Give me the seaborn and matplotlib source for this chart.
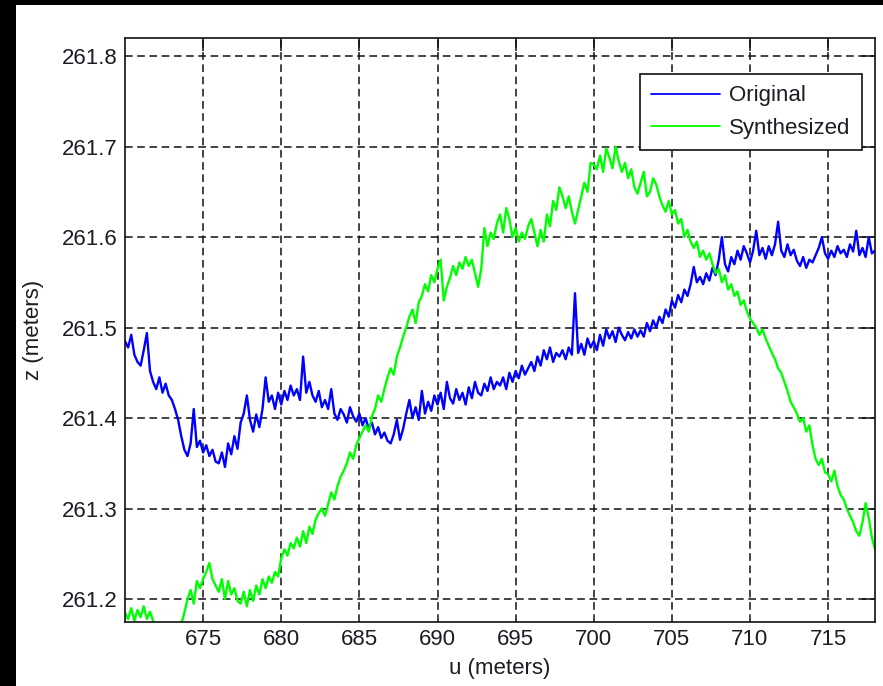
import numpy as np
import pandas as pd
import matplotlib
matplotlib.use("Agg")
import matplotlib.pyplot as plt
import seaborn as sns

# Along-track distance, sampled every 0.2 m from 670 m to 718 m
u_start, u_stop, u_step = 670.0, 718.0, 0.2

# Original elevation profile (m), five samples per metre
z_original = [
    261.485, 261.478, 261.492, 261.470, 261.462,
    261.458, 261.475, 261.494, 261.452, 261.440,
    261.432, 261.445, 261.428, 261.438, 261.425,
    261.420, 261.410, 261.398, 261.380, 261.365,
    261.358, 261.372, 261.410, 261.368, 261.375,
    261.362, 261.370, 261.358, 261.365, 261.352,
    261.350, 261.362, 261.346, 261.372, 261.360,
    261.380, 261.366, 261.395, 261.405, 261.425,
    261.398, 261.385, 261.404, 261.390, 261.410,
    261.445, 261.418, 261.425, 261.410, 261.428,
    261.415, 261.430, 261.420, 261.436, 261.425,
    261.432, 261.420, 261.468, 261.428, 261.440,
    261.425, 261.418, 261.430, 261.412, 261.420,
    261.410, 261.432, 261.405, 261.398, 261.410,
    261.404, 261.395, 261.412, 261.402, 261.396,
    261.405, 261.392, 261.400, 261.388, 261.395,
    261.382, 261.390, 261.378, 261.384, 261.375,
    261.372, 261.382, 261.398, 261.376, 261.388,
    261.405, 261.420, 261.400, 261.412, 261.398,
    261.430, 261.405, 261.418, 261.408, 261.425,
    261.415, 261.428, 261.410, 261.440, 261.422,
    261.416, 261.432, 261.420, 261.428, 261.415,
    261.434, 261.422, 261.440, 261.428, 261.425,
    261.438, 261.430, 261.445, 261.432, 261.440,
    261.436, 261.445, 261.432, 261.450, 261.440,
    261.452, 261.444, 261.458, 261.448, 261.455,
    261.462, 261.452, 261.468, 261.458, 261.475,
    261.465, 261.478, 261.462, 261.472, 261.468,
    261.475, 261.465, 261.478, 261.470, 261.538,
    261.472, 261.482, 261.470, 261.488, 261.478,
    261.485, 261.475, 261.492, 261.480, 261.498,
    261.488, 261.496, 261.484, 261.500, 261.492,
    261.486, 261.495, 261.488, 261.498, 261.490,
    261.497, 261.490, 261.505, 261.496, 261.508,
    261.500, 261.512, 261.505, 261.520, 261.512,
    261.530, 261.522, 261.536, 261.528, 261.542,
    261.535, 261.548, 261.567, 261.550, 261.556,
    261.548, 261.560, 261.552, 261.566, 261.558,
    261.575, 261.600, 261.570, 261.562, 261.578,
    261.570, 261.585, 261.575, 261.590, 261.582,
    261.572, 261.585, 261.607, 261.580, 261.588,
    261.576, 261.590, 261.580, 261.592, 261.617,
    261.585, 261.578, 261.592, 261.580, 261.586,
    261.574, 261.568, 261.578, 261.566, 261.575,
    261.572, 261.580, 261.588, 261.600, 261.582,
    261.576, 261.585, 261.578, 261.590, 261.582,
    261.586, 261.578, 261.592, 261.584, 261.607,
    261.580, 261.588, 261.578, 261.600, 261.582,
    261.585,
]

# Synthesized elevation profile (m), same sampling
z_synthesized = [
    261.185, 261.178, 261.190, 261.176, 261.188,
    261.180, 261.192, 261.178, 261.186, 261.176,
    261.170, 261.165, 261.160, 261.158, 261.160,
    261.162, 261.165, 261.170, 261.172, 261.185,
    261.200, 261.210, 261.195, 261.220, 261.212,
    261.222, 261.230, 261.240, 261.222, 261.215,
    261.208, 261.222, 261.200, 261.220, 261.205,
    261.212, 261.198, 261.195, 261.208, 261.192,
    261.210, 261.198, 261.215, 261.205, 261.222,
    261.212, 261.225, 261.218, 261.230, 261.225,
    261.245, 261.255, 261.248, 261.262, 261.256,
    261.268, 261.258, 261.275, 261.262, 261.280,
    261.272, 261.288, 261.295, 261.300, 261.292,
    261.305, 261.318, 261.310, 261.325, 261.335,
    261.342, 261.350, 261.362, 261.355, 261.370,
    261.378, 261.385, 261.392, 261.385, 261.402,
    261.410, 261.425, 261.418, 261.432, 261.445,
    261.455, 261.448, 261.468, 261.478, 261.490,
    261.500, 261.512, 261.520, 261.505, 261.528,
    261.535, 261.548, 261.540, 261.558, 261.550,
    261.565, 261.575, 261.530, 261.545, 261.555,
    261.568, 261.558, 261.572, 261.565, 261.578,
    261.568, 261.575, 261.560, 261.545, 261.565,
    261.610, 261.590, 261.605, 261.598, 261.615,
    261.625, 261.605, 261.632, 261.620, 261.600,
    261.610, 261.595, 261.605, 261.598, 261.612,
    261.620, 261.605, 261.590, 261.608, 261.595,
    261.625, 261.612, 261.640, 261.630, 261.655,
    261.645, 261.632, 261.645, 261.628, 261.615,
    261.630, 261.645, 261.660, 261.650, 261.682,
    261.680, 261.675, 261.690, 261.672, 261.698,
    261.688, 261.676, 261.700, 261.684, 261.672,
    261.682, 261.665, 261.675, 261.655, 261.648,
    261.660, 261.672, 261.645, 261.650, 261.665,
    261.658, 261.645, 261.635, 261.628, 261.640,
    261.625, 261.630, 261.615, 261.620, 261.600,
    261.608, 261.595, 261.588, 261.595, 261.578,
    261.585, 261.575, 261.582, 261.570, 261.560,
    261.565, 261.550, 261.558, 261.542, 261.548,
    261.535, 261.540, 261.525, 261.530, 261.518,
    261.510, 261.505, 261.500, 261.492, 261.498,
    261.488, 261.480, 261.472, 261.465, 261.455,
    261.450, 261.440, 261.430, 261.418, 261.412,
    261.405, 261.396, 261.400, 261.385, 261.392,
    261.370, 261.355, 261.348, 261.355, 261.340,
    261.338, 261.330, 261.342, 261.325, 261.315,
    261.310, 261.300, 261.292, 261.285, 261.275,
    261.270, 261.285, 261.306, 261.290, 261.268,
    261.255,
]

series_names = ["Original", "Synthesized"]
series_colors = ["#0000ff", "#00ff00"]

x_ticks = [675, 680, 685, 690, 695, 700, 705, 710, 715]
y_ticks = [261.2, 261.3, 261.4, 261.5, 261.6, 261.7, 261.8]
y_tick_labels = ["261.2", "261.3", "261.4", "261.5", "261.6", "261.7", "261.8"]

n = len(z_original)
u = np.round(u_start + u_step * np.arange(n), 3)

df = pd.concat([
    pd.DataFrame({"u": u, "z": z_original, "series": series_names[0]}),
    pd.DataFrame({"u": u, "z": z_synthesized, "series": series_names[1]}),
], ignore_index=True)

sns.set_style("white")
plt.rcParams["font.family"] = ["Liberation Sans", "DejaVu Sans"]
text_color = "#1c1c24"

fig = plt.figure(figsize=(8.83, 6.86), dpi=100, facecolor="black")
# white figure panel inside the dark frame
fig.patches.append(plt.Rectangle((16 / 883, 0), 1, 1 - 5 / 686,
                                 transform=fig.transFigure, facecolor="white",
                                 edgecolor="none", zorder=-10))

ax = fig.add_axes([125 / 883, 1 - 621.7 / 686, 750 / 883, 583.7 / 686])
ax.set_facecolor("white")

sns.lineplot(data=df, x="u", y="z", hue="series", palette=series_colors,
             estimator=None, sort=False, linewidth=1.7, ax=ax, legend=False)

ax.set_xlim(u_start, u_stop)
ax.set_ylim(261.175, 261.82)
ax.set_xticks(x_ticks)
ax.set_xticklabels([str(t) for t in x_ticks])
ax.set_yticks(y_ticks)
ax.set_yticklabels(y_tick_labels)

ax.grid(True, linestyle=(0, (5, 3)), color="#111111", linewidth=1.1)
ax.set_axisbelow(True)

ax.tick_params(direction="in", length=9.5, width=1.1, colors="#111111",
               top=True, right=True, labelsize=16, labelcolor=text_color, pad=5)
for s in ax.spines.values():
    s.set_visible(True)
    s.set_color("#111111")
    s.set_linewidth(1.2)

ax.set_xlabel("u (meters)", fontsize=16, color=text_color)
ax.set_ylabel("z (meters)", fontsize=16, color=text_color)
ax.xaxis.set_label_coords(0.5, -0.062)
ax.yaxis.set_label_coords(-0.108, 0.5)

handles = [plt.Line2D([], [], color=c, lw=1.3) for c in series_colors]
leg = ax.legend(handles, series_names, loc="upper right",
                bbox_to_anchor=(0.9823, 0.9378), borderaxespad=0,
                fontsize=16, handlelength=3.1, handletextpad=0.4,
                labelspacing=0.5, borderpad=0.5, fancybox=False,
                framealpha=1, edgecolor="#111111")
leg.get_frame().set_linewidth(1.2)
for t in leg.get_texts():
    t.set_color(text_color)

fig.savefig("out.png", dpi=100, facecolor=fig.get_facecolor())
